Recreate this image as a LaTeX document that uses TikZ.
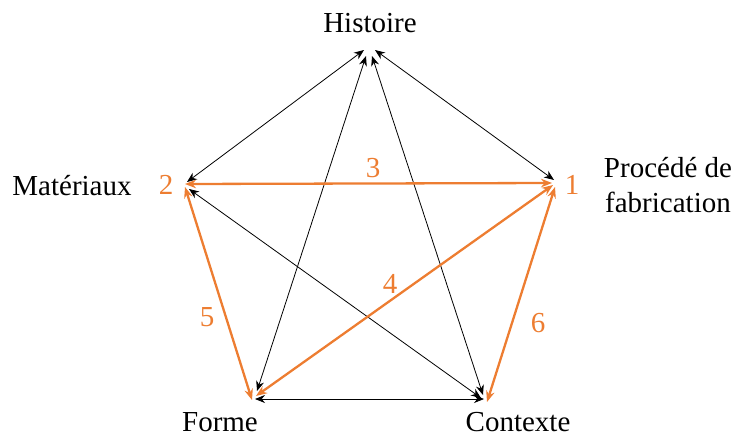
\documentclass[tikz,border=0pt]{standalone}
\usepackage{fontspec}
\setmainfont{Liberation Serif}
\usetikzlibrary{arrows.meta}
\definecolor{org}{RGB}{237,125,49}
\begin{document}
\begin{tikzpicture}[x=1pt,y=-1pt,
  lbl/.style={font=\fontsize{29}{34}\selectfont, inner sep=0pt, align=center},
  num/.style={lbl, text=org},
  blk/.style={draw=black, line width=0.8pt, {Stealth[length=10pt,width=8pt]}-{Stealth[length=10pt,width=8pt]}},
  orn/.style={draw=org, line width=2.3pt, {Stealth[length=11pt,width=8.5pt]}-{Stealth[length=11pt,width=8.5pt]}}]
\useasboundingbox (0,0) rectangle (738,436);
% end points of the connectors
\coordinate (H2) at (364,50);
\coordinate (H1) at (375,50);
\coordinate (HF) at (366,56);
\coordinate (HC) at (372,56);
\coordinate (A2H) at (187,182);
\coordinate (A2a) at (185,184);
\coordinate (A2b) at (185,187);
\coordinate (A2C) at (189,189);
\coordinate (A1H) at (554,180);
\coordinate (A1a) at (552,183);
\coordinate (A1b) at (553,185);
\coordinate (A1c) at (555,187);
\coordinate (FH) at (257,391);
\coordinate (Fa) at (252,400);
\coordinate (Fb) at (256,396);
\coordinate (FC) at (255,399);
\coordinate (CH) at (483,395);
\coordinate (C2) at (481,398);
\coordinate (CF) at (484,399);
\coordinate (Ca) at (487,402);
% labels
\node[lbl, anchor=base] (tH) at (370,33) {Histoire};
\node[lbl, anchor=base] (tM) at (72,195) {Matériaux};
\node[lbl, anchor=base] (tP) at (668,177) {Procédé de};
\node[lbl, anchor=base] (tP2) at (668,212) {fabrication};
\node[lbl, anchor=base] (tF) at (220,431) {Forme};
\node[lbl, anchor=base] (tC) at (518,431) {Contexte};
\node[num, anchor=base] (n2) at (166,194) {2};
\node[num, anchor=base] (n1) at (572,194) {1};
\node[num, anchor=base] (n3) at (373,177) {3};
\node[num, anchor=base] (n4) at (390,293) {4};
\node[num, anchor=base] (n5) at (207,326) {5};
\node[num, anchor=base] (n6) at (538,332) {6};
% black
\draw[blk] (A2H) -- (H2);
\draw[blk] (A1H) -- (H1);
\draw[blk] (FH) -- (HF);
\draw[blk] (CH) -- (HC);
\draw[blk] (A2C) -- (C2);
\draw[blk] (FC) -- (CF);
% orange
\draw[orn] (A2a) -- (A1a);
\draw[orn] (A2b) -- (Fa);
\draw[orn] (Fb) -- (A1b);
\draw[orn] (A1c) -- (Ca);
\end{tikzpicture}
\end{document}
